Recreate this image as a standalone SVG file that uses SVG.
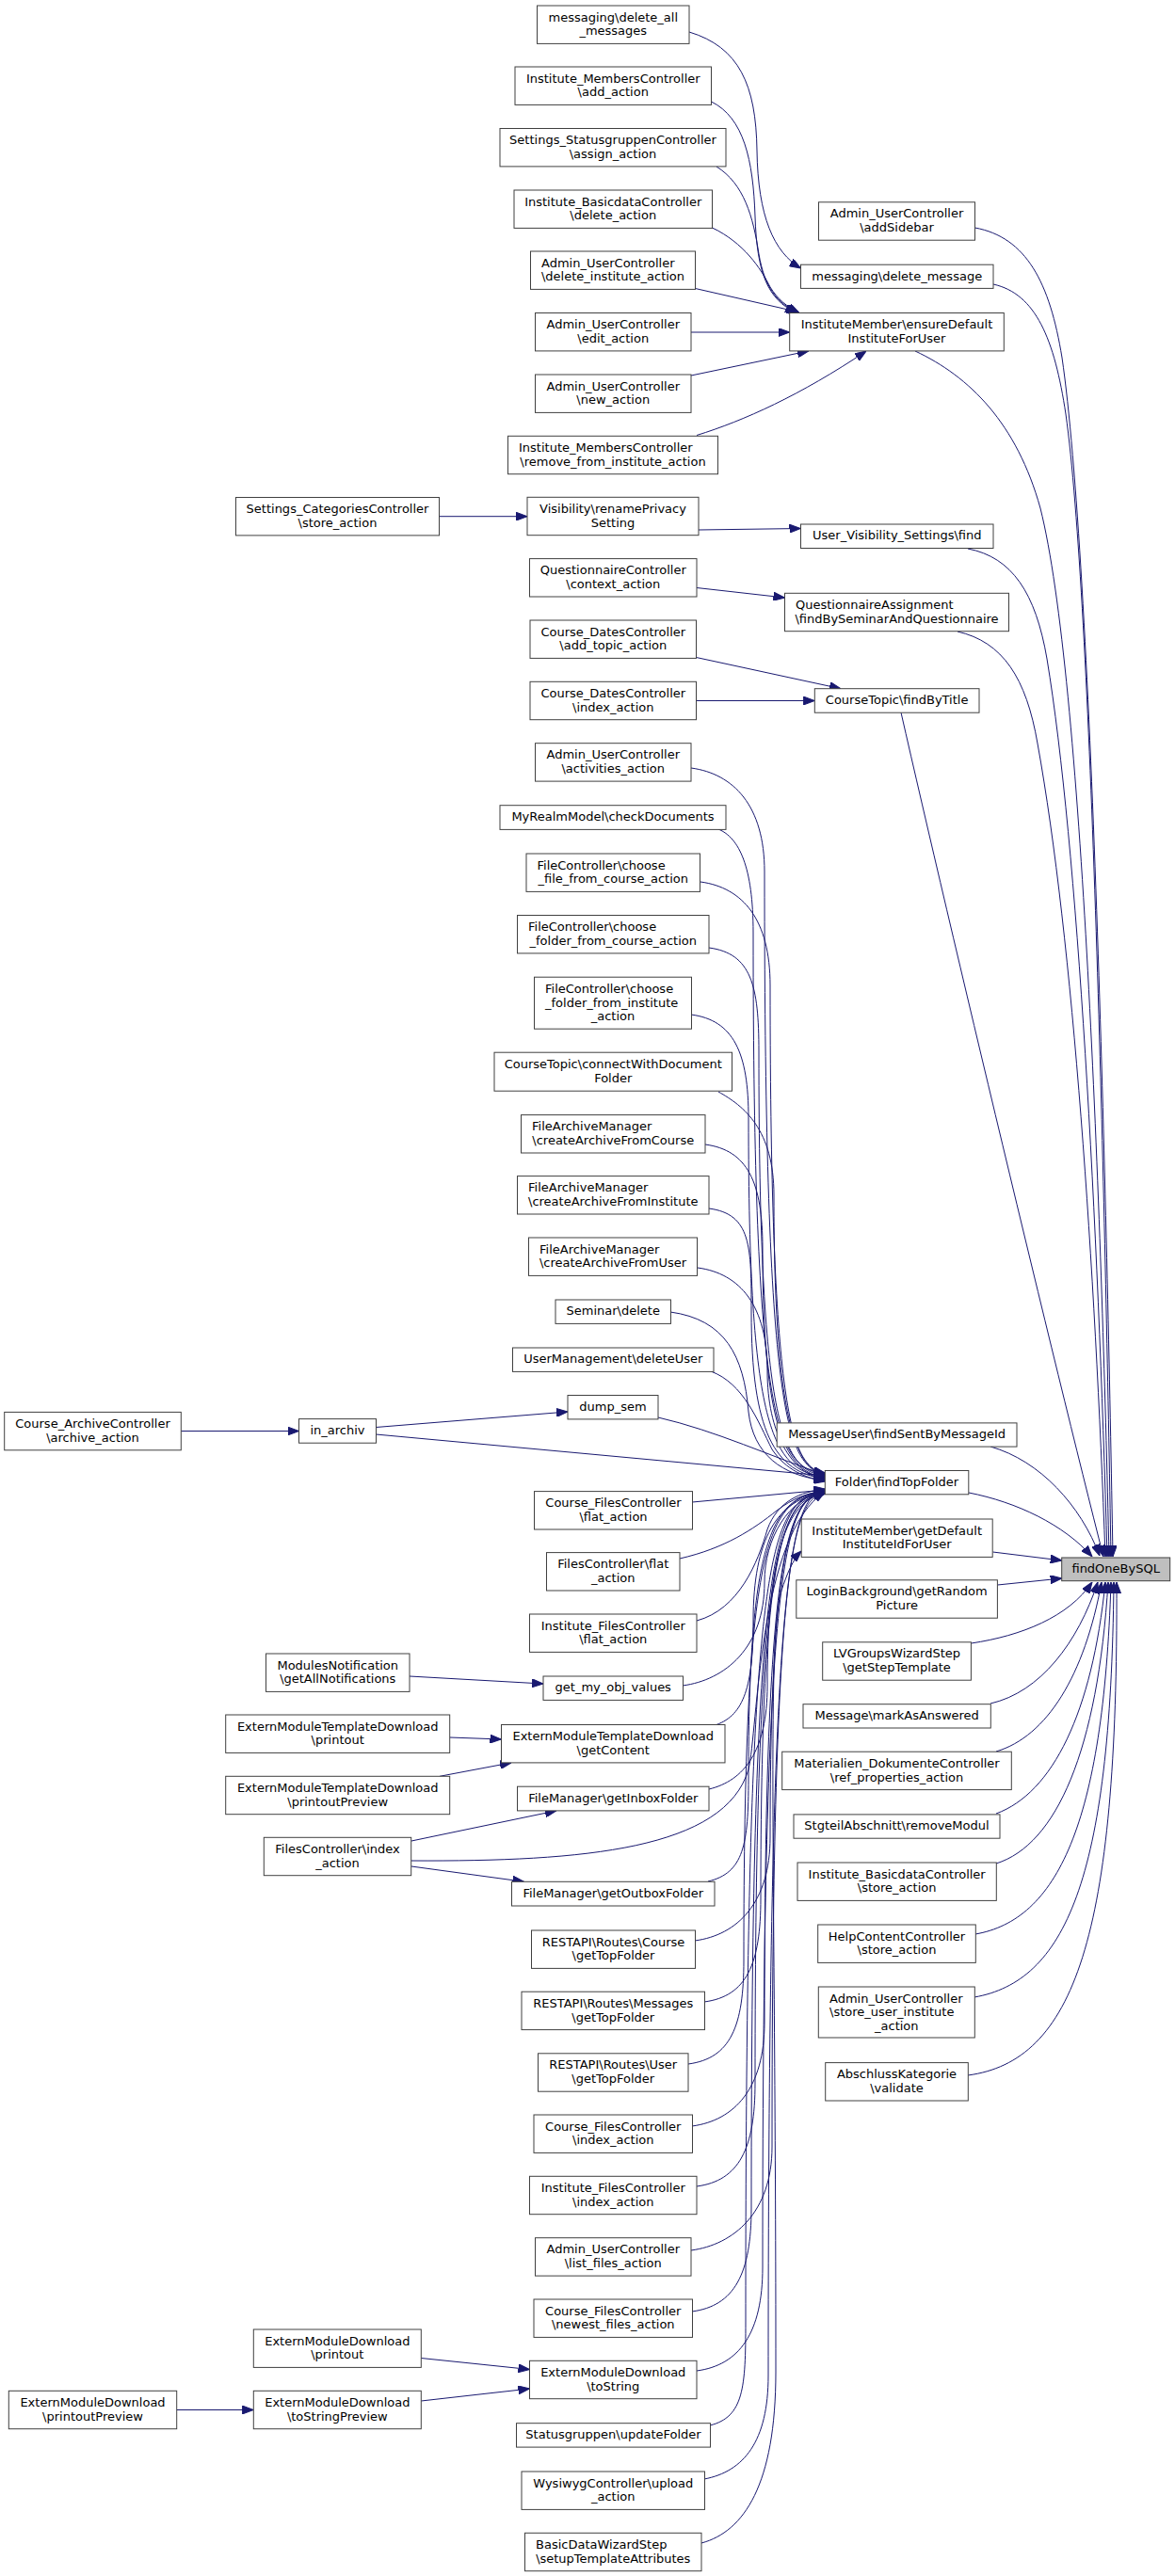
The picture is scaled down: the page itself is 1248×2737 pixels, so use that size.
<svg xmlns="http://www.w3.org/2000/svg" width="1248" height="2737" viewBox="0 0 1248 2737">
<style>
.n rect{fill:#ffffff;stroke:#404040;stroke-width:1}
.n.f rect{fill:#bfbfbf}
text{font-family:"DejaVu Sans","Liberation Sans",sans-serif;font-size:13px;fill:#000000}
.c{text-anchor:middle}
.l{text-anchor:start}
#edges path{fill:none;stroke:#191970;stroke-width:1;marker-end:url(#a)}
</style>
<defs>
<marker id="a" viewBox="0 0 12 9" refX="12" refY="4.5" markerWidth="12" markerHeight="9" markerUnits="userSpaceOnUse" orient="auto">
<path d="M0,0 L12,4.5 L0,9 z" fill="#191970" stroke="#191970" stroke-width="1"/>
</marker>
</defs>
<rect x="0" y="0" width="1248" height="2737" fill="#ffffff"/>
<g id="edges">
<path d="M1035.5,242 C1090,252 1115,300 1128,380 C1160,600 1176,1300 1182,1654"/>
<path d="M1055,302 C1100,312 1120,360 1132,440 C1160,640 1174,1300 1180,1654"/>
<path d="M972,373 C1030,400 1080,450 1105,540 C1150,720 1170,1300 1178,1654"/>
<path d="M1028,583 C1075,592 1100,630 1112,700 C1145,900 1166,1300 1176,1654"/>
<path d="M1017,671 C1065,682 1090,720 1102,790 C1140,1000 1163,1350 1174,1654"/>
<path d="M957,757 C1010,990 1120,1450 1172,1654"/>
<path d="M1052,1537 C1105,1552 1148,1600 1168,1653"/>
<path d="M1029,1586 C1080,1596 1130,1620 1160,1654"/>
<path d="M1054.5,1649 L1127.7,1658"/>
<path d="M1059.5,1684 L1127.7,1677"/>
<path d="M1031.5,1746 C1085,1738 1135,1718 1160,1681"/>
<path d="M1052,1810 C1105,1798 1145,1745 1166,1681"/>
<path d="M1058,1861 C1112,1845 1152,1780 1170,1681"/>
<path d="M1058,1927 C1118,1905 1160,1820 1174,1681"/>
<path d="M1058,1980 C1122,1960 1166,1860 1177,1681"/>
<path d="M1036,2055 C1122,2040 1172,1940 1180,1681"/>
<path d="M1035,2122 C1130,2105 1180,2000 1183,1681"/>
<path d="M1028,2205 C1140,2190 1188,2060 1186,1681"/>
<path d="M732,34 C785,50 803,90 804,160 C805,230 822,268 850.5,285"/>
<path d="M755.5,108 C790,125 800,170 802,230 C804,290 815,318 846,332.5"/>
<path d="M761,177 C790,195 800,230 806,270 C812,305 825,322 848,332.5"/>
<path d="M756.5,242 C790,258 808,285 818,305 C826,318 836,326 849,332.5"/>
<path d="M738.5,306.5 L848,331.5"/>
<path d="M734,353 L838.7,353"/>
<path d="M734,399 L859,372.9"/>
<path d="M740,462.5 C790,447 850,420 920,373"/>
<path d="M466.5,548.7 L560,548.7"/>
<path d="M742,563 L850.5,561.5"/>
<path d="M740,624.5 L833.5,635"/>
<path d="M739.5,698.5 L893,731.7"/>
<path d="M739.5,744.5 L865.3,744.5"/>
<path d="M734,816 C779,822 812,856 812,926 C812,1515 837,1559 876.3,1565"/>
<path d="M763,881 C785,890 800,921 800,991 C800,1516 825,1560 876.3,1566"/>
<path d="M744,937 C789,943 818,977 818,1047 C818,1517 843,1561 876.3,1567"/>
<path d="M753,1007 C798,1013 806,1047 806,1117 C806,1518 831,1562 876.3,1568"/>
<path d="M734,1078 C779,1084 795,1118 795,1188 C795,1519 820,1563 876.3,1569"/>
<path d="M763,1160 C790,1175 822,1200 822,1270 C822,1516 847,1560 876.3,1566"/>
<path d="M749,1216 C794,1222 810,1256 810,1326 C810,1520 835,1564 876.3,1570"/>
<path d="M753,1284 C798,1290 798,1324 798,1394 C798,1521 823,1565 876.3,1571"/>
<path d="M741,1347 C786,1353 815,1387 815,1457 C815,1522 840,1566 876.3,1572"/>
<path d="M712,1394 C770,1402 790,1440 795,1500 C800,1545 830,1568 876.3,1573"/>
<path d="M755,1457 C790,1470 805,1510 820,1540 C835,1562 855,1570 876.3,1574"/>
<path d="M699,1506 C760,1520 820,1548 876.3,1567"/>
<path d="M399.3,1524 L876.3,1568"/>
<path d="M735.3,1596 L876.3,1583"/>
<path d="M722,1656 C770,1645 800,1625 825,1605 C842,1592 858,1586 876.3,1584"/>
<path d="M740,1722 C785,1710 805,1660 815,1625 C826,1595 850,1585 876.3,1582"/>
<path d="M725,1791 C770,1785 812,1751 812,1681 C812,1635 837,1591 876.3,1585"/>
<path d="M761,1832.5 C790,1822 800,1792 800,1722 C800,1636 825,1592 876.3,1586"/>
<path d="M753,1901 C790,1892 815,1861 815,1791 C815,1637 840,1593 876.3,1587"/>
<path d="M437,1977 C620,1978 770,1965 795,1880 C805,1840 805,1630 876.3,1585"/>
<path d="M752,1999 C790,1990 795,1960 795,1890 C795,1634 820,1590 876.3,1584"/>
<path d="M738,2062 C783,2056 818,2022 818,1952 C818,1633 843,1589 876.3,1583"/>
<path d="M748,2127 C793,2121 808,2087 808,2017 C808,1634 833,1590 876.3,1584"/>
<path d="M731,2193 C776,2187 790,2153 790,2083 C790,1635 815,1591 876.3,1585"/>
<path d="M735,2259 C780,2253 812,2219 812,2149 C812,1636 837,1592 876.3,1586"/>
<path d="M740,2323 C785,2317 802,2283 802,2213 C802,1637 827,1593 876.3,1587"/>
<path d="M734,2391 C779,2385 820,2351 820,2281 C820,1633 845,1589 876.3,1583"/>
<path d="M735,2456 C780,2450 798,2416 798,2346 C798,1634 823,1590 876.3,1584"/>
<path d="M740,2519 C785,2513 810,2479 810,2409 C810,1635 835,1591 876.3,1585"/>
<path d="M754,2577 C790,2568 792,2537 792,2467 C792,1636 817,1592 876.3,1586"/>
<path d="M748,2634 C790,2626 816,2594 816,2524 C816,1637 841,1593 876.3,1587"/>
<path d="M745,2702 C790,2690 824,2640 824,2520 C824,2000 814,1740 830,1690 C836,1672 842,1657 851.2,1648"/>
<path d="M192.3,1520.5 L317.5,1520.5"/>
<path d="M399.3,1516.5 L603,1500"/>
<path d="M435,1781 L577,1789"/>
<path d="M477.7,1846 L532.5,1848"/>
<path d="M467,1887.3 L543,1872.9"/>
<path d="M437,1956 L591,1923.9"/>
<path d="M437,1983 L556.5,1999.3"/>
<path d="M447.3,2505.5 L562.5,2517.5"/>
<path d="M447.3,2551 L562.5,2538"/>
<path d="M187.7,2560.5 L269.3,2560.5"/>
</g>
<g id="n_delete_all" class="n"><rect x="570.5" y="6" width="161.5" height="40.4"/><text class="c" x="651.25" y="22.6">messaging\delete_all</text><text class="c" x="651.25" y="37.4">_messages</text></g>
<g id="n_add_action" class="n"><rect x="547" y="71" width="208.5" height="40.4"/><text class="c" x="651.25" y="87.6">Institute_MembersController</text><text class="c" x="651.25" y="102.4">\add_action</text></g>
<g id="n_assign" class="n"><rect x="531" y="136.5" width="240" height="40.4"/><text class="c" x="651" y="153.1">Settings_StatusgruppenController</text><text class="c" x="651" y="167.9">\assign_action</text></g>
<g id="n_ib_delete" class="n"><rect x="546" y="202" width="210.5" height="40.4"/><text class="c" x="651.25" y="218.6">Institute_BasicdataController</text><text class="c" x="651.25" y="233.4">\delete_action</text></g>
<g id="n_del_inst" class="n"><rect x="563.5" y="267" width="175" height="40.4"/><text class="l" x="575" y="283.6">Admin_UserController</text><text class="c" x="651" y="298.4">\delete_institute_action</text></g>
<g id="n_edit" class="n"><rect x="568.5" y="332.5" width="165.5" height="40.4"/><text class="c" x="651.25" y="349.1">Admin_UserController</text><text class="c" x="651.25" y="363.9">\edit_action</text></g>
<g id="n_new" class="n"><rect x="568.5" y="398" width="165.5" height="40.4"/><text class="c" x="651.25" y="414.6">Admin_UserController</text><text class="c" x="651.25" y="429.4">\new_action</text></g>
<g id="n_remove" class="n"><rect x="539.5" y="463.3" width="223" height="40.4"/><text class="l" x="551" y="479.9">Institute_MembersController</text><text class="c" x="651" y="494.7">\remove_from_institute_action</text></g>
<g id="n_visibility" class="n"><rect x="560" y="528.3" width="182" height="40.4"/><text class="c" x="651" y="544.9">Visibility\renamePrivacy</text><text class="c" x="651" y="559.7">Setting</text></g>
<g id="n_q_ctx" class="n"><rect x="562.5" y="593.6" width="177.5" height="40.4"/><text class="c" x="651.25" y="610.2">QuestionnaireController</text><text class="c" x="651.25" y="625">\context_action</text></g>
<g id="n_add_topic" class="n"><rect x="563" y="659" width="176.5" height="40.4"/><text class="c" x="651.25" y="675.6">Course_DatesController</text><text class="c" x="651.25" y="690.4">\add_topic_action</text></g>
<g id="n_dates_index" class="n"><rect x="563" y="724.3" width="176.5" height="40.4"/><text class="c" x="651.25" y="740.9">Course_DatesController</text><text class="c" x="651.25" y="755.7">\index_action</text></g>
<g id="n_activities" class="n"><rect x="568.5" y="789.7" width="165.5" height="40.4"/><text class="c" x="651.25" y="806.3">Admin_UserController</text><text class="c" x="651.25" y="821.1">\activities_action</text></g>
<g id="n_checkdocs" class="n"><rect x="531" y="855.7" width="240" height="25.7"/><text class="c" x="651" y="872.2">MyRealmModel\checkDocuments</text></g>
<g id="n_choose_file" class="n"><rect x="559" y="907" width="184.5" height="40.4"/><text class="l" x="570.5" y="923.6">FileController\choose</text><text class="c" x="651.25" y="938.4">_file_from_course_action</text></g>
<g id="n_choose_folder_course" class="n"><rect x="549.5" y="972.5" width="203.5" height="40.4"/><text class="l" x="561" y="989.1">FileController\choose</text><text class="c" x="651.25" y="1003.9">_folder_from_course_action</text></g>
<g id="n_choose_folder_inst" class="n"><rect x="567.5" y="1038.2" width="167" height="55"/><text class="l" x="579" y="1054.8">FileController\choose</text><text class="l" x="579" y="1069.6">_folder_from_institute</text><text class="c" x="651" y="1084.4">_action</text></g>
<g id="n_connect" class="n"><rect x="525" y="1118.2" width="252.5" height="41"/><text class="c" x="651.25" y="1134.8">CourseTopic\connectWithDocument</text><text class="c" x="651.25" y="1149.6">Folder</text></g>
<g id="n_arch_course" class="n"><rect x="553.5" y="1184.6" width="195.5" height="40.4"/><text class="l" x="565" y="1201.2">FileArchiveManager</text><text class="c" x="651.25" y="1216">\createArchiveFromCourse</text></g>
<g id="n_arch_inst" class="n"><rect x="549.5" y="1249.6" width="203.5" height="40.4"/><text class="l" x="561" y="1266.2">FileArchiveManager</text><text class="c" x="651.25" y="1281">\createArchiveFromInstitute</text></g>
<g id="n_arch_user" class="n"><rect x="561.5" y="1315" width="179" height="40.4"/><text class="l" x="573" y="1331.6">FileArchiveManager</text><text class="c" x="651" y="1346.4">\createArchiveFromUser</text></g>
<g id="n_seminar_delete" class="n"><rect x="590" y="1381" width="122.5" height="25.4"/><text class="c" x="651.25" y="1397.4">Seminar\delete</text></g>
<g id="n_delete_user" class="n"><rect x="544.5" y="1432" width="213.5" height="25.4"/><text class="c" x="651.25" y="1448.4">UserManagement\deleteUser</text></g>
<g id="n_dump_sem" class="n"><rect x="603" y="1482.5" width="96" height="25.4"/><text class="c" x="651" y="1498.9">dump_sem</text></g>
<g id="n_cf_flat" class="n"><rect x="567.5" y="1584.6" width="168" height="40.4"/><text class="c" x="651.5" y="1601.2">Course_FilesController</text><text class="c" x="651.5" y="1616">\flat_action</text></g>
<g id="n_fc_flat" class="n"><rect x="580.5" y="1649.6" width="141.5" height="40.4"/><text class="c" x="651.25" y="1666.2">FilesController\flat</text><text class="c" x="651.25" y="1681">_action</text></g>
<g id="n_if_flat" class="n"><rect x="562.5" y="1715" width="177.5" height="40.4"/><text class="c" x="651.25" y="1731.6">Institute_FilesController</text><text class="c" x="651.25" y="1746.4">\flat_action</text></g>
<g id="n_get_my_obj" class="n"><rect x="577" y="1781" width="148.5" height="25.4"/><text class="c" x="651.25" y="1797.4">get_my_obj_values</text></g>
<g id="n_get_content" class="n"><rect x="532.5" y="1832.5" width="237.5" height="40.4"/><text class="c" x="651.25" y="1849.1">ExternModuleTemplateDownload</text><text class="c" x="651.25" y="1863.9">\getContent</text></g>
<g id="n_inbox" class="n"><rect x="549.5" y="1898.2" width="203.5" height="25.7"/><text class="c" x="651.25" y="1914.7">FileManager\getInboxFolder</text></g>
<g id="n_outbox" class="n"><rect x="543.5" y="1999.3" width="215.5" height="25.7"/><text class="c" x="651.25" y="2015.8">FileManager\getOutboxFolder</text></g>
<g id="n_rest_course" class="n"><rect x="564.5" y="2051" width="174" height="40.4"/><text class="c" x="651.5" y="2067.6">RESTAPI\Routes\Course</text><text class="c" x="651.5" y="2082.4">\getTopFolder</text></g>
<g id="n_rest_messages" class="n"><rect x="554" y="2116.2" width="194.5" height="40.4"/><text class="c" x="651.25" y="2132.8">RESTAPI\Routes\Messages</text><text class="c" x="651.25" y="2147.6">\getTopFolder</text></g>
<g id="n_rest_user" class="n"><rect x="571.5" y="2181.8" width="159.5" height="40.4"/><text class="c" x="651.25" y="2198.4">RESTAPI\Routes\User</text><text class="c" x="651.25" y="2213.2">\getTopFolder</text></g>
<g id="n_cf_index" class="n"><rect x="567" y="2247" width="168.5" height="40.4"/><text class="c" x="651.25" y="2263.6">Course_FilesController</text><text class="c" x="651.25" y="2278.4">\index_action</text></g>
<g id="n_if_index" class="n"><rect x="562.5" y="2312.3" width="177.5" height="40.4"/><text class="c" x="651.25" y="2328.9">Institute_FilesController</text><text class="c" x="651.25" y="2343.7">\index_action</text></g>
<g id="n_list_files" class="n"><rect x="568.5" y="2377.7" width="165.5" height="40.4"/><text class="c" x="651.25" y="2394.3">Admin_UserController</text><text class="c" x="651.25" y="2409.1">\list_files_action</text></g>
<g id="n_newest" class="n"><rect x="567" y="2443" width="168.5" height="40.4"/><text class="c" x="651.25" y="2459.6">Course_FilesController</text><text class="c" x="651.25" y="2474.4">\newest_files_action</text></g>
<g id="n_tostring" class="n"><rect x="562.5" y="2508.3" width="177.5" height="40.4"/><text class="c" x="651.25" y="2524.9">ExternModuleDownload</text><text class="c" x="651.25" y="2539.7">\toString</text></g>
<g id="n_statusgruppen" class="n"><rect x="548.5" y="2574.7" width="206" height="25.4"/><text class="c" x="651.5" y="2591.1">Statusgruppen\updateFolder</text></g>
<g id="n_wysiwyg" class="n"><rect x="554" y="2626" width="194.5" height="40.4"/><text class="c" x="651.25" y="2642.6">WysiwygController\upload</text><text class="c" x="651.25" y="2657.4">_action</text></g>
<g id="n_basicdata" class="n"><rect x="557.5" y="2691.3" width="187.5" height="40.4"/><text class="l" x="569" y="2707.9">BasicDataWizardStep</text><text class="c" x="651.25" y="2722.7">\setupTemplateAttributes</text></g>
<g id="n_addsidebar" class="n"><rect x="869.5" y="214.8" width="166" height="40.4"/><text class="c" x="952.5" y="231.4">Admin_UserController</text><text class="c" x="952.5" y="246.2">\addSidebar</text></g>
<g id="n_delete_message" class="n"><rect x="850.5" y="281.2" width="204.5" height="25.2"/><text class="c" x="952.75" y="297.6">messaging\delete_message</text></g>
<g id="n_ensure" class="n"><rect x="838.7" y="332.5" width="227.6" height="40.4"/><text class="c" x="952.5" y="349.1">InstituteMember\ensureDefault</text><text class="c" x="952.5" y="363.9">InstituteForUser</text></g>
<g id="n_uvs_find" class="n"><rect x="850.5" y="557" width="204.5" height="25.5"/><text class="c" x="952.75" y="573.4">User_Visibility_Settings\find</text></g>
<g id="n_qa" class="n"><rect x="833.5" y="630.3" width="238" height="40.4"/><text class="l" x="845" y="646.9">QuestionnaireAssignment</text><text class="c" x="952.5" y="661.7">\findBySeminarAndQuestionnaire</text></g>
<g id="n_findbytitle" class="n"><rect x="865.3" y="731.7" width="174.7" height="25.5"/><text class="c" x="952.65" y="748.1">CourseTopic\findByTitle</text></g>
<g id="n_messageuser" class="n"><rect x="825.2" y="1511.9" width="254.8" height="25.2"/><text class="c" x="952.6" y="1528.3">MessageUser\findSentByMessageId</text></g>
<g id="n_findtopfolder" class="n"><rect x="876.3" y="1562.5" width="152.5" height="25.3"/><text class="c" x="952.55" y="1578.9">Folder\findTopFolder</text></g>
<g id="n_getdefault" class="n"><rect x="851.2" y="1614" width="203" height="40.4"/><text class="c" x="952.7" y="1630.6">InstituteMember\getDefault</text><text class="c" x="952.7" y="1645.4">InstituteIdForUser</text></g>
<g id="n_findonebysql" class="n f"><rect x="1127.7" y="1655" width="115" height="24.7"/><text class="c" x="1185.2" y="1671.3">findOneBySQL</text></g>
<g id="n_loginbg" class="n"><rect x="845.8" y="1678.8" width="213.6" height="40.4"/><text class="c" x="952.6" y="1695.4">LoginBackground\getRandom</text><text class="c" x="952.6" y="1710.2">Picture</text></g>
<g id="n_lvgroups" class="n"><rect x="873.7" y="1744.8" width="157.7" height="40.4"/><text class="c" x="952.55" y="1761.4">LVGroupsWizardStep</text><text class="c" x="952.55" y="1776.2">\getStepTemplate</text></g>
<g id="n_markanswered" class="n"><rect x="853" y="1810.7" width="199.3" height="25.3"/><text class="c" x="952.65" y="1827.1">Message\markAsAnswered</text></g>
<g id="n_materialien" class="n"><rect x="830.7" y="1861.2" width="243.6" height="40.4"/><text class="c" x="952.5" y="1877.8">Materialien_DokumenteController</text><text class="c" x="952.5" y="1892.6">\ref_properties_action</text></g>
<g id="n_removemodul" class="n"><rect x="843" y="1927.9" width="219" height="25.3"/><text class="c" x="952.5" y="1944.3">StgteilAbschnitt\removeModul</text></g>
<g id="n_ib_store" class="n"><rect x="847" y="1979" width="211.3" height="40.4"/><text class="c" x="952.65" y="1995.6">Institute_BasicdataController</text><text class="c" x="952.65" y="2010.4">\store_action</text></g>
<g id="n_helpcontent" class="n"><rect x="868.7" y="2045" width="167.6" height="40.4"/><text class="c" x="952.5" y="2061.6">HelpContentController</text><text class="c" x="952.5" y="2076.4">\store_action</text></g>
<g id="n_store_user_inst" class="n"><rect x="869.3" y="2111" width="166" height="54"/><text class="l" x="881" y="2127.6">Admin_UserController</text><text class="l" x="881" y="2142.4">\store_user_institute</text><text class="c" x="952.3" y="2157.2">_action</text></g>
<g id="n_abschluss" class="n"><rect x="876.7" y="2191.6" width="151.6" height="40.4"/><text class="c" x="952.5" y="2208.2">AbschlussKategorie</text><text class="c" x="952.5" y="2223">\validate</text></g>
<g id="n_settings_cat" class="n"><rect x="250.5" y="528.5" width="216" height="40.4"/><text class="c" x="358.5" y="545.1">Settings_CategoriesController</text><text class="c" x="358.5" y="559.9">\store_action</text></g>
<g id="n_in_archiv" class="n"><rect x="317.5" y="1507.6" width="82" height="25.6"/><text class="c" x="358.5" y="1524">in_archiv</text></g>
<g id="n_modules_notif" class="n"><rect x="282.5" y="1757" width="152.5" height="40.4"/><text class="c" x="358.75" y="1773.6">ModulesNotification</text><text class="c" x="358.75" y="1788.4">\getAllNotifications</text></g>
<g id="n_emtd_printout" class="n"><rect x="239.7" y="1822" width="238" height="40.4"/><text class="c" x="358.7" y="1838.6">ExternModuleTemplateDownload</text><text class="c" x="358.7" y="1853.4">\printout</text></g>
<g id="n_emtd_preview" class="n"><rect x="239.7" y="1887.3" width="238" height="40.4"/><text class="c" x="358.7" y="1903.9">ExternModuleTemplateDownload</text><text class="c" x="358.7" y="1918.7">\printoutPreview</text></g>
<g id="n_fc_index" class="n"><rect x="280.3" y="1952.3" width="156.4" height="40.4"/><text class="c" x="358.5" y="1968.9">FilesController\index</text><text class="c" x="358.5" y="1983.7">_action</text></g>
<g id="n_emd_printout" class="n"><rect x="269.3" y="2475" width="178" height="40.4"/><text class="c" x="358.3" y="2491.6">ExternModuleDownload</text><text class="c" x="358.3" y="2506.4">\printout</text></g>
<g id="n_emd_tostringpreview" class="n"><rect x="269.3" y="2540.3" width="178" height="40.4"/><text class="c" x="358.3" y="2556.9">ExternModuleDownload</text><text class="c" x="358.3" y="2571.7">\toStringPreview</text></g>
<g id="n_archive_action" class="n"><rect x="4.7" y="1500.4" width="187.6" height="40.4"/><text class="c" x="98.5" y="1517">Course_ArchiveController</text><text class="c" x="98.5" y="1531.8">\archive_action</text></g>
<g id="n_emd_printoutpreview" class="n"><rect x="9.3" y="2540.3" width="178.4" height="40.4"/><text class="c" x="98.5" y="2556.9">ExternModuleDownload</text><text class="c" x="98.5" y="2571.7">\printoutPreview</text></g>
</svg>
